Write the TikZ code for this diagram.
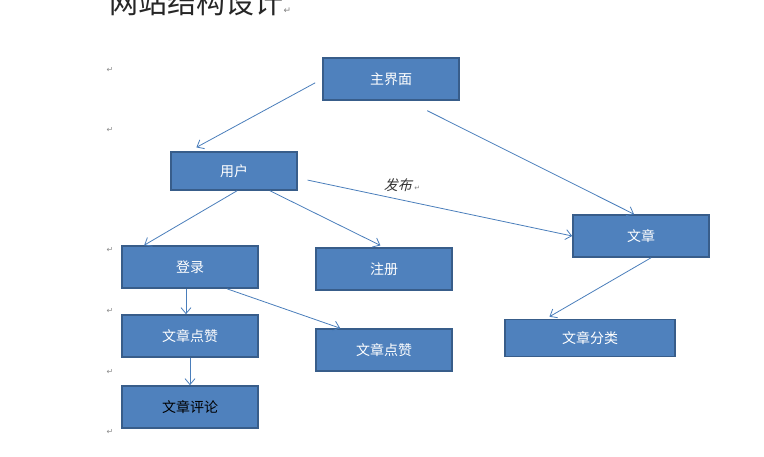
\documentclass[tikz,border=0pt]{standalone}
\usepackage{fontspec}
\setmainfont{Noto Sans CJK SC}
\newfontfamily\slantcjk{Noto Sans CJK SC}[FakeSlant=0.25]
\newfontfamily\markfont{DejaVu Sans}
\usetikzlibrary{arrows.meta,calc}
\definecolor{boxfill}{RGB}{79,129,189}
\definecolor{boxline}{RGB}{56,93,138}
\definecolor{linkline}{RGB}{74,126,187}

\begin{document}
\begin{tikzpicture}[
  x=1pt, y=-1pt,
  every node/.style={font=\fontsize{14}{16}\selectfont},
  sitebox/.style={draw=boxline, line width=1.6pt, fill=boxfill, text=white,
               minimum width=136pt, minimum height=42pt, inner sep=0pt},
  link/.style={draw=linkline, line width=0.8pt, -{Straight Barb[length=6pt,width=10pt]}},
  parmark/.style={font=\markfont\fontsize{8}{9}\selectfont, text=gray!90}
]
\useasboundingbox (0,0) rectangle (764,456);

\node[anchor=base west, font=\fontsize{29}{32}\selectfont, text=black!85] (title) at (106,13) {网站结构设计{\markfont\fontsize{9}{10}\selectfont\color{gray}↵}};

\node[sitebox] (main) at (391,79) {主界面};
\node[sitebox, minimum width=126pt, minimum height=38pt] (user) at (234,171) {用户};
\node[sitebox] (article) at (641,236) {文章};
\node[sitebox] (login) at (190,267) {登录};
\node[sitebox] (register) at (384,269) {注册};
\node[sitebox] (likeA) at (190,336) {文章点赞};
\node[sitebox] (likeB) at (384,350) {文章点赞};
\node[sitebox, minimum width=170pt, minimum height=37pt] (category) at (590,338) {文章分类};
\node[sitebox, text=black] (comment) at (190,407) {文章评论};

\foreach \y [count=\i] in {70,130,250,311,372,432}
  \node[parmark] (mark\i) at (110,\y) {↵};

\draw[link, shorten <=8pt, shorten >=8pt] (main.west) -- ($(user.north west)!0.3!(user.north)$);
\draw[link, shorten <=22pt] ($(main.south)!0.24!(main.south east)$) -- ($(article.north)+(-7,0)$);
\draw[link, shorten <=10pt] ($(user.east)+(0,7)$) -- (article.west)
  node[pos=0.38, above=5pt, font=\slantcjk\fontsize{14}{16}\selectfont, text=black!80] (publish) {发布\,{\markfont\fontsize{7}{8}\selectfont\color{gray}↵}};
\draw[link] ($(user.south)+(3,0)$) -- ($(login.north west)+(23,0)$);
\draw[link, shorten >=4pt] ($(user.south)+(36,0)$) -- (register.north);
\draw[link] ($(login.south)+(-4,0)$) -- ($(likeA.north)+(-4,0)$);
\draw[link] ($(login.south)+(37,0)$) -- ($(likeB.north west)+(25,0)$);
\draw[link] (likeA.south) -- (comment.north);
\draw[link, shorten >=4pt] ($(article.south)+(10,0)$) -- ($(category.north)+(-44,0)$);

\end{tikzpicture}
\end{document}
